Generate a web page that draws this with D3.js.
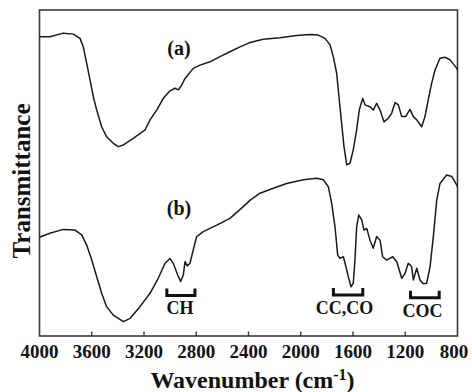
<!DOCTYPE html>
<html>
<head>
<meta charset="utf-8">
<script src="https://cdn.jsdelivr.net/npm/d3@7/dist/d3.min.js"></script>
<style>
  html, body { margin: 0; padding: 0; background: #fff; }
  svg { display: block; }
  text { font-family: "Liberation Serif", "Times New Roman", serif; font-weight: bold; fill: #111; }
</style>
</head>
<body>
<script>
// ---- data ----
const wavenumberA = [4000,3920,3818,3741,3690,3665,3639,3613,3588,3562,3524,3486,3435,3397,3358,3282,3192,3154,3103,3052,3001,2963,2937,2911,2886,2823,2771,2695,2618,2542,2465,2389,2287,2159,2031,1929,1866,1814,1776,1751,1725,1705,1687,1669,1648,1623,1598,1572,1552,1526,1508,1470,1445,1419,1393,1363,1330,1304,1278,1253,1227,1197,1164,1138,1112,1074,1049,1024,998,972,934,896,857,805,800];
const transmittanceA = [91.8,91.8,92.9,92.6,91.3,88.7,83.7,78.5,73.4,69.3,64.2,61.1,59.1,58.1,58.6,60.6,63.2,66.3,69.3,72.9,75.2,76.0,75.5,77.0,79.0,82.1,83.1,84.1,85.7,87.2,88.7,90.0,91.0,91.5,92.2,92.5,92.3,91.3,89.3,85.7,80.6,72.4,65.2,58.1,52.5,53.0,57.1,63.2,69.3,72.9,70.9,70.3,69.3,71.4,69.3,65.7,66.8,68.3,71.6,70.9,67.3,67.3,69.5,67.3,66.3,64.2,67.3,72.4,77.5,81.6,85.2,85.5,84.7,82.1,81.5];
const wavenumberB = [4000,3920,3818,3728,3677,3639,3600,3562,3524,3486,3435,3358,3307,3231,3154,3091,3039,3001,2976,2937,2919,2899,2886,2869,2848,2823,2797,2746,2643,2542,2440,2389,2312,2210,2108,1980,1878,1827,1789,1763,1738,1717,1700,1674,1654,1636,1615,1598,1585,1572,1556,1533,1516,1495,1470,1445,1419,1393,1373,1342,1296,1265,1227,1202,1177,1151,1138,1112,1087,1062,1036,1010,985,959,934,883,844,805,800];
const transmittanceB = [30.3,31.5,32.7,32.5,31.0,27.9,23.3,18.2,13.1,9.0,6.4,4.4,5.4,9.0,13.1,17.7,22.3,23.8,22.3,18.2,16.7,18.7,22.8,21.5,22.3,26.4,30.5,32.0,34.0,36.1,39.7,41.6,43.8,45.3,46.8,47.9,48.4,47.9,45.8,40.7,33.5,24.8,23.8,24.3,21.3,18.2,15.1,16.2,23.3,33.5,37.1,35.6,32.5,33.0,29.4,26.9,30.5,29.4,24.3,23.3,24.3,22.8,17.7,19.2,22.3,21.3,17.2,20.8,17.2,16.0,16.2,21.3,30.5,41.7,46.8,49.4,48.9,46.3,45.8];
const xTicks = [4000,3600,3200,2800,2400,2000,1600,1200,800];
const xTickLabels = ["4000","3600","3200","2800","2400","2000","1600","1200","800"];
const panelLabels = ["(a)","(b)"];
const panelLabelWn = [2932,2932];
const panelLabelT = [86.2,37.1];
const bandLabels = ["CH","CC,CO","COC"];
const bandStart = [3025,1750,1160];
const bandEnd = [2810,1525,940];
const bandLevel = [12.4,12.6,11.7];
const bandLabelWn = [2924,1665,1068];
const bandLabelT = [6.7,6.7,5.8];

// ---- layout ----
const W = 472, H = 392;
const plot = {left: 39.5, right: 457.5, top: 10, bottom: 336};

const svg = d3.select("body").append("svg").attr("width", W).attr("height", H);

const x = d3.scaleLinear().domain([4000, 800]).range([plot.left, plot.right]);
const y = d3.scaleLinear().domain([0, 100]).range([plot.bottom, plot.top]);

// frame
svg.append("rect")
  .attr("x", plot.left).attr("y", plot.top)
  .attr("width", plot.right - plot.left).attr("height", plot.bottom - plot.top)
  .attr("fill", "none").attr("stroke", "#3a3a3a").attr("stroke-width", 1.6);

// bottom ticks (inward)
svg.append("g").selectAll("line").data(xTicks.slice(1, -1)).join("line")
  .attr("x1", d => x(d)).attr("x2", d => x(d))
  .attr("y1", plot.bottom).attr("y2", plot.bottom - 4.5)
  .attr("stroke", "#3a3a3a").attr("stroke-width", 1.4);

// tick labels
svg.append("g").selectAll("text").data(xTicks).join("text")
  .attr("x", d => Math.min(x(d), W - 18))
  .attr("y", 358)
  .attr("text-anchor", "middle")
  .attr("font-size", 19)
  .text((d, i) => xTickLabels[i]);

// axis titles
const xt = svg.append("text")
  .attr("x", (plot.left + plot.right) / 2 + 4)
  .attr("y", 388)
  .attr("text-anchor", "middle")
  .attr("font-size", 24);
xt.append("tspan").text("Wavenumber (cm");
xt.append("tspan").attr("font-size", 16).attr("dy", -8).text("-1");
xt.append("tspan").attr("dy", 8).text(")");

svg.append("text")
  .attr("transform", `translate(30,${(plot.top + plot.bottom) / 2 + 8}) rotate(-90)`)
  .attr("text-anchor", "middle")
  .attr("font-size", 25)
  .text("Transmittance");

// spectra
const line = d3.line().x(d => x(d[0])).y(d => y(d[1]));
const seriesA = wavenumberA.map((w, i) => [w, transmittanceA[i]]);
const seriesB = wavenumberB.map((w, i) => [w, transmittanceB[i]]);
[seriesA, seriesB].forEach(s => {
  svg.append("path").datum(s)
    .attr("d", line)
    .attr("fill", "none")
    .attr("stroke", "#1a1a1a")
    .attr("stroke-width", 1.5)
    .attr("stroke-linejoin", "round");
});

// panel labels
svg.append("g").selectAll("text").data(panelLabels).join("text")
  .attr("x", (d, i) => x(panelLabelWn[i]))
  .attr("y", (d, i) => y(panelLabelT[i]))
  .attr("text-anchor", "middle")
  .attr("font-size", 20)
  .text(d => d);

// band brackets
const br = svg.append("g");
bandLabels.forEach((lab, i) => {
  const x0 = x(bandStart[i]), x1 = x(bandEnd[i]), yb = y(bandLevel[i]);
  br.append("path")
    .attr("d", `M${x0},${yb - 7}V${yb}H${x1}V${yb - 7}`)
    .attr("fill", "none").attr("stroke", "#111").attr("stroke-width", 3)
    .attr("stroke-linejoin", "miter");
  br.append("text")
    .attr("x", x(bandLabelWn[i]))
    .attr("y", y(bandLabelT[i]))
    .attr("text-anchor", "middle")
    .attr("font-size", 18)
    .text(lab);
});
</script>
</body>
</html>
